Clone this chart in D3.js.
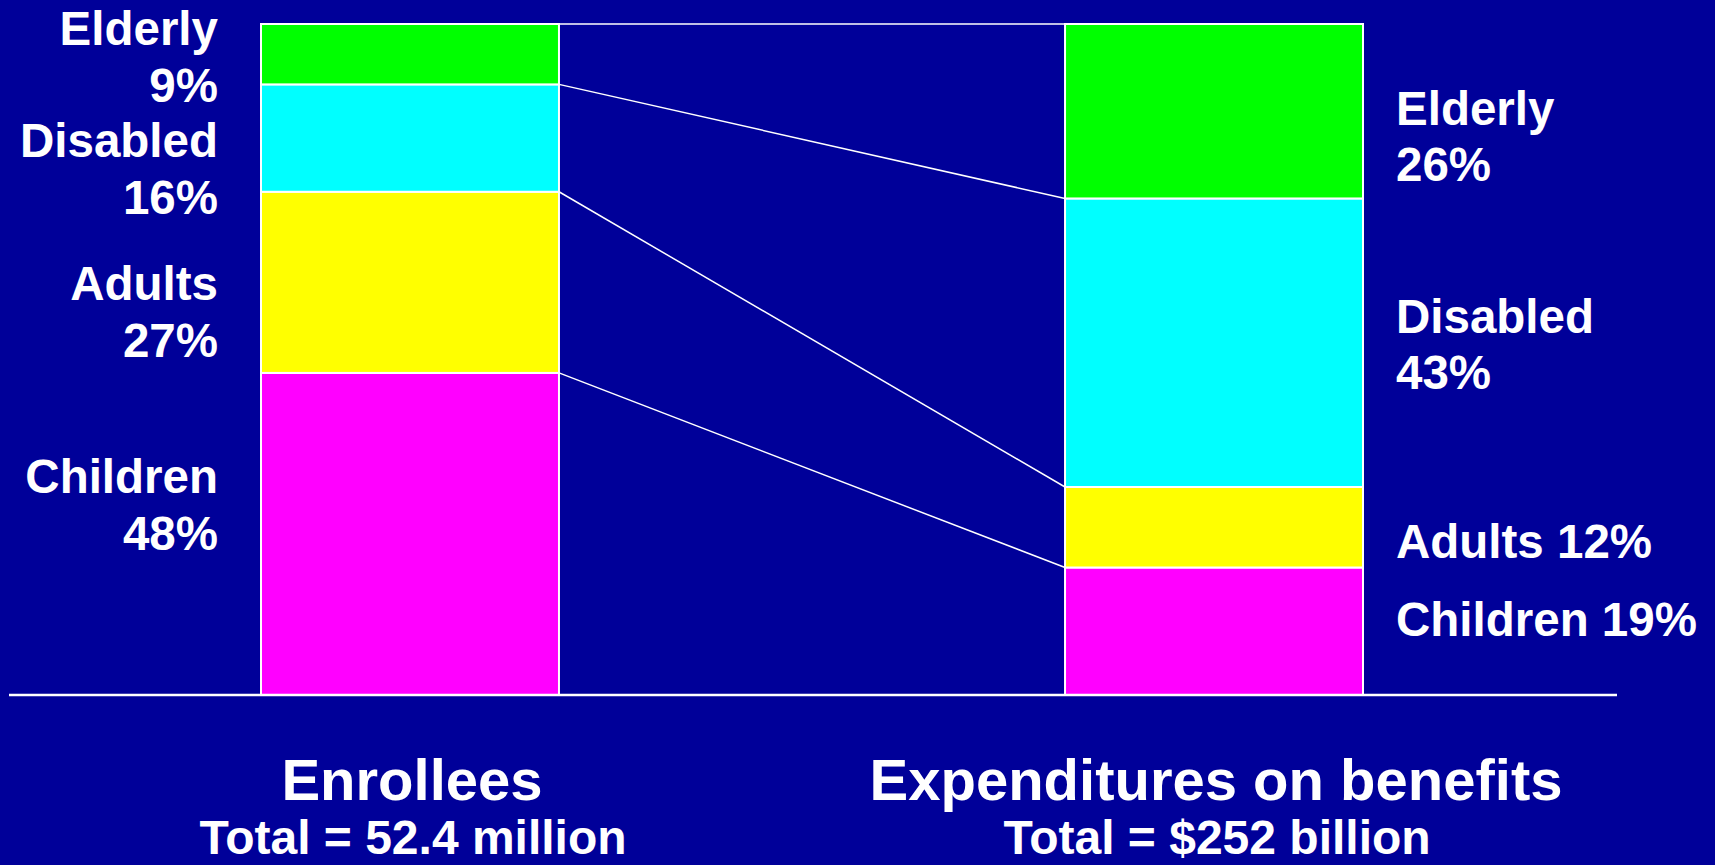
<!DOCTYPE html>
<html>
<head>
<meta charset="utf-8">
<script src="https://cdn.jsdelivr.net/npm/d3@7"></script>
<style>
  html, body { margin: 0; padding: 0; background: #000099; }
  svg { display: block; }
  text { font-family: "Liberation Sans", Arial, sans-serif; font-weight: bold; fill: #fff; }
</style>
</head>
<body>
<div id="chart"></div>
<script>
// data
var groups = ['Enrollees', 'Expenditures on benefits'];
var totals = ['Total = 52.4 million', 'Total = $252 billion'];
var categories = ['Children', 'Adults', 'Disabled', 'Elderly'];
var enrollees = [48, 27, 16, 9];
var expenditures = [19, 12, 43, 26];
var colors = ['#ff00ff', '#ffff00', '#00ffff', '#00ff00'];

var width = 1715, height = 865;

var svg = d3.select('#chart').append('svg')
	.attr('width', width)
	.attr('height', height)
	.style('background', '#000099');

var rows = groups.map(function(g, i){
	var r = {group: g};
	categories.forEach(function(c, j){
		r[c] = (i == 0 ? enrollees : expenditures)[j];
	});
	return r;
});
var stacked = d3.stack().keys(categories)(rows);

var x = d3.scaleBand().domain(groups).range([261, 1363]).paddingInner(0.6294).paddingOuter(0);
var y = d3.scaleLinear().domain([0, 100]).range([695, 24]);

// connector lines between the two bars
var bounds = [];
stacked.forEach(function(s){ bounds.push([s[0][1], s[1][1]]); });
svg.selectAll('line.link').data(bounds)
	.enter().append('line')
	.attr('class', 'link')
	.attr('x1', x(groups[0]) + x.bandwidth())
	.attr('x2', x(groups[1]))
	.attr('y1', function(d){ return y(d[0]); })
	.attr('y2', function(d){ return y(d[1]); })
	.attr('stroke', '#fff')
	.attr('stroke-width', 1.5);

// bars
svg.selectAll('g.layer').data(stacked)
	.enter().append('g')
	.attr('class', 'layer')
	.attr('fill', function(d, i){ return colors[i]; })
	.selectAll('rect').data(function(d){ return d; })
	.enter().append('rect')
	.attr('x', function(d){ return x(d.data.group); })
	.attr('y', function(d){ return y(d[1]); })
	.attr('width', x.bandwidth())
	.attr('height', function(d){ return y(d[0]) - y(d[1]); })
	.attr('stroke', '#fff')
	.attr('stroke-width', 2);

// baseline
svg.append('line')
	.attr('x1', 9).attr('x2', 1617)
	.attr('y1', y(0)).attr('y2', y(0))
	.attr('stroke', '#fff')
	.attr('stroke-width', 2.5);

// segment labels, nudged off the segment centre as in the slide
var leftShift = [-41, 18, 19, -9];
var rightShift = [5, 31, -10, 14];
var oneLineRight = [true, true, false, false];

stacked.forEach(function(s, j){
	var c0 = (y(s[0][0]) + y(s[0][1])) / 2;
	var t = svg.append('text')
		.attr('text-anchor', 'end')
		.attr('x', 218)
		.attr('y', c0 + leftShift[j])
		.style('font-size', '47.5px');
	t.append('tspan').attr('x', 218).text(categories[j]);
	t.append('tspan').attr('x', 218).attr('dy', 57).text(enrollees[j] + '%');

	var c1 = (y(s[1][0]) + y(s[1][1])) / 2;
	var t2 = svg.append('text')
		.attr('x', 1396)
		.attr('y', c1 + rightShift[j])
		.style('font-size', '47.5px');
	if (oneLineRight[j]) {
		t2.text(categories[j] + ' ' + expenditures[j] + '%');
	} else {
		t2.append('tspan').attr('x', 1396).text(categories[j]);
		t2.append('tspan').attr('x', 1396).attr('dy', 56).text(expenditures[j] + '%');
	}
});

// group titles under the bars
groups.forEach(function(g, i){
	var cx = x(g) + x.bandwidth() / 2;
	svg.append('text')
		.attr('text-anchor', 'middle')
		.attr('x', cx + 2)
		.attr('y', 800)
		.style('font-size', '58px')
		.text(g);
	svg.append('text')
		.attr('text-anchor', 'middle')
		.attr('x', cx + 3)
		.attr('y', 854)
		.style('font-size', '48px')
		.text(totals[i]);
});
</script>
</body>
</html>
